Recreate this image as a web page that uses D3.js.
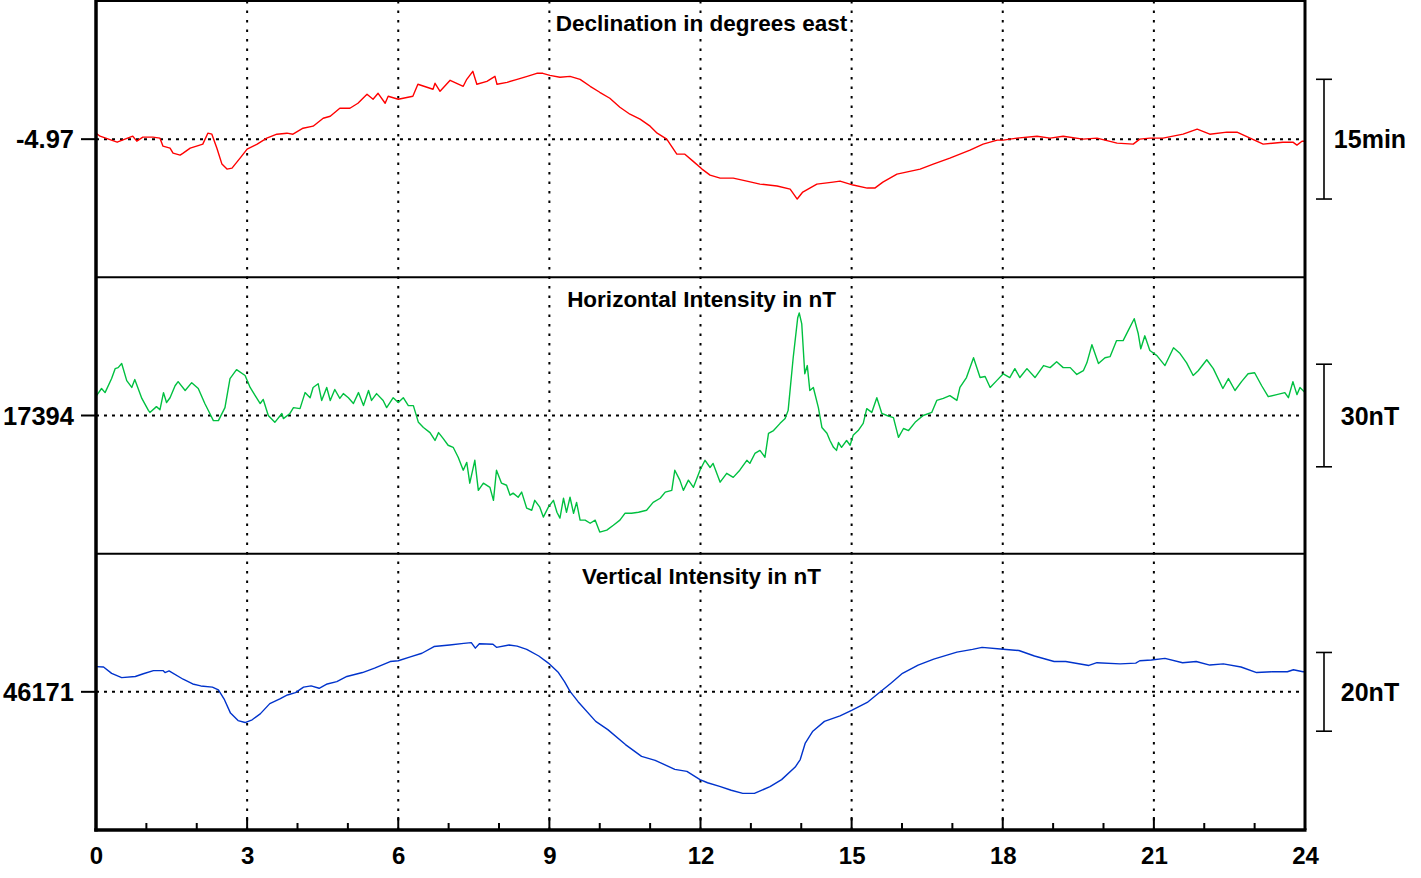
<!DOCTYPE html>
<html><head><meta charset="utf-8">
<script src="https://cdn.jsdelivr.net/npm/d3@7"></script>
<style>
html,body{margin:0;padding:0;background:#fff;}
svg text{font-family:"Liberation Sans",Arial,Helvetica,sans-serif;font-weight:bold;fill:#000;}
</style></head>
<body>
<svg id="chart" width="1421" height="878"></svg>
<script>
// ---------- DATA ----------
const hourTicks = [0,3,6,9,12,15,18,21,24];
const panelTitles = ["Declination in degrees east","Horizontal Intensity in nT","Vertical Intensity in nT"];
const baselineLabels = ["-4.97","17394","46171"];
const baselines = [-4.97, 17394, 46171];
const halfRanges = [0.2885, 40.4, 35.1];
const scaleBarValues = [0.25, 30, 20];
const scaleBarLabels = ["15min","30nT","20nT"];
const colors = ["#ff0000","#00c040","#0033cc"];

// Declination (degrees east)
const decT = [0,0.08,0.42,0.73,0.81,0.93,1.13,1.27,1.33,1.47,1.53,1.67,1.73,1.87,2.06,2.12,2.22,2.30,2.40,2.50,2.60,2.70,2.86,3.00,3.20,3.39,3.59,3.79,3.91,4.11,4.31,4.51,4.65,4.84,5.04,5.20,5.38,5.50,5.60,5.74,5.80,6.00,6.29,6.39,6.69,6.73,6.83,7.03,7.29,7.36,7.48,7.56,7.76,7.92,7.96,8.16,8.36,8.56,8.75,8.87,9.01,9.21,9.41,9.61,9.81,10.00,10.20,10.40,10.60,10.80,11.00,11.14,11.33,11.53,11.69,11.85,12.03,12.19,12.39,12.65,12.92,13.18,13.52,13.78,13.92,14.03,14.31,14.63,14.77,15.03,15.31,15.46,15.62,15.90,16.36,16.62,16.95,17.35,17.61,17.89,18.01,18.28,18.68,18.94,19.20,19.59,19.87,20.27,20.59,20.72,20.92,21.18,21.58,21.86,22.11,22.45,22.65,22.91,23.17,23.56,23.76,23.84,23.94,24.00];
const decV = [-4.9575,-4.9638,-4.9763,-4.9638,-4.9742,-4.9658,-4.9658,-4.9679,-4.9846,-4.9888,-4.9992,-5.0033,-4.9992,-4.9888,-4.9825,-4.9804,-4.9575,-4.9596,-4.9888,-5.0221,-5.0325,-5.0304,-5.0096,-4.9908,-4.9804,-4.9679,-4.9596,-4.9575,-4.9596,-4.9471,-4.9429,-4.9263,-4.9221,-4.9054,-4.9054,-4.8950,-4.8763,-4.8867,-4.8742,-4.8950,-4.8804,-4.8867,-4.8804,-4.8554,-4.8658,-4.8533,-4.8700,-4.8471,-4.8596,-4.8450,-4.8283,-4.8554,-4.8492,-4.8388,-4.8554,-4.8513,-4.8450,-4.8388,-4.8325,-4.8325,-4.8367,-4.8408,-4.8388,-4.8450,-4.8596,-4.8721,-4.8846,-4.9033,-4.9179,-4.9283,-4.9429,-4.9575,-4.9700,-5.0013,-5.0013,-5.0158,-5.0325,-5.0450,-5.0513,-5.0513,-5.0575,-5.0638,-5.0679,-5.0742,-5.0950,-5.0804,-5.0638,-5.0596,-5.0575,-5.0658,-5.0721,-5.0721,-5.0596,-5.0429,-5.0325,-5.0221,-5.0096,-4.9929,-4.9804,-4.9721,-4.9721,-4.9679,-4.9638,-4.9679,-4.9638,-4.9700,-4.9679,-4.9783,-4.9804,-4.9700,-4.9679,-4.9679,-4.9596,-4.9492,-4.9596,-4.9554,-4.9554,-4.9679,-4.9804,-4.9763,-4.9763,-4.9825,-4.9742,-4.9742];

// Horizontal intensity (nT)
const hT = [0.01,0.11,0.18,0.31,0.38,0.44,0.51,0.61,0.71,0.77,0.91,1.04,1.07,1.20,1.27,1.34,1.40,1.47,1.57,1.63,1.77,1.90,2.03,2.16,2.26,2.33,2.43,2.56,2.66,2.79,2.96,3.06,3.16,3.26,3.32,3.42,3.55,3.69,3.72,3.85,3.92,4.05,4.15,4.25,4.31,4.41,4.48,4.58,4.65,4.74,4.84,4.91,5.01,5.11,5.21,5.31,5.41,5.47,5.57,5.70,5.77,5.90,6.00,6.10,6.20,6.30,6.40,6.50,6.63,6.73,6.80,6.89,6.99,7.09,7.19,7.29,7.36,7.42,7.52,7.59,7.69,7.82,7.89,7.95,8.05,8.15,8.22,8.28,8.38,8.45,8.55,8.65,8.71,8.81,8.88,8.98,9.08,9.15,9.21,9.28,9.34,9.41,9.48,9.54,9.61,9.71,9.81,9.91,10.00,10.14,10.27,10.40,10.50,10.63,10.77,10.93,11.06,11.20,11.30,11.43,11.49,11.59,11.66,11.76,11.86,11.99,12.09,12.19,12.25,12.39,12.52,12.65,12.78,12.92,12.98,13.08,13.18,13.28,13.35,13.45,13.58,13.68,13.74,13.84,13.93,13.96,14.01,14.07,14.12,14.17,14.24,14.34,14.41,14.51,14.57,14.64,14.70,14.74,14.80,14.90,14.97,15.03,15.13,15.23,15.30,15.40,15.50,15.60,15.70,15.83,15.93,16.03,16.13,16.26,16.42,16.59,16.69,16.82,16.95,17.09,17.15,17.28,17.42,17.55,17.65,17.75,17.88,18.01,18.14,18.24,18.34,18.48,18.64,18.81,18.94,19.07,19.20,19.34,19.47,19.60,19.67,19.77,19.90,20.03,20.13,20.26,20.39,20.49,20.61,20.69,20.74,20.82,20.92,21.06,21.22,21.39,21.52,21.65,21.78,21.88,22.05,22.18,22.37,22.48,22.61,22.74,22.87,23.00,23.14,23.27,23.44,23.60,23.67,23.76,23.84,23.90,24.00];
const hV = [17399.8,17401.9,17400.7,17404.8,17407.7,17408.0,17409.2,17404.2,17402.2,17404.5,17399.0,17395.5,17394.9,17396.6,17395.7,17400.7,17397.8,17399.2,17402.7,17403.9,17401.3,17403.6,17401.9,17397.5,17394.6,17392.5,17392.5,17396.3,17404.8,17407.4,17405.7,17402.2,17399.8,17397.5,17398.7,17394.0,17392.0,17394.6,17393.1,17394.6,17396.3,17396.0,17400.7,17399.2,17402.2,17403.3,17398.4,17402.2,17398.4,17401.6,17399.0,17400.4,17399.2,17397.5,17400.7,17396.9,17401.3,17398.4,17400.4,17398.4,17396.3,17399.2,17397.8,17399.2,17396.9,17396.9,17392.0,17390.5,17389.0,17386.7,17389.0,17387.3,17385.3,17384.7,17381.8,17378.0,17380.3,17374.2,17380.9,17372.1,17374.2,17373.0,17369.2,17378.0,17374.2,17373.6,17370.7,17371.3,17370.1,17371.6,17366.9,17366.3,17369.2,17367.2,17364.3,17367.2,17369.2,17365.7,17364.0,17369.8,17365.7,17370.1,17365.4,17368.6,17363.4,17363.4,17362.5,17363.4,17359.9,17360.5,17361.9,17363.4,17365.4,17365.4,17365.7,17366.3,17368.6,17369.8,17371.6,17372.1,17378.0,17375.1,17372.1,17375.1,17373.0,17378.0,17380.9,17378.8,17380.0,17374.5,17377.1,17375.9,17378.0,17380.9,17380.0,17382.9,17383.8,17381.8,17388.8,17389.6,17391.7,17393.1,17395.5,17410.9,17422.6,17424.0,17420.8,17406.2,17408.6,17401.3,17402.2,17396.3,17390.5,17388.8,17386.7,17384.7,17383.8,17386.1,17384.7,17386.7,17385.3,17388.2,17389.6,17391.7,17396.0,17394.9,17399.2,17394.6,17394.0,17393.4,17387.6,17390.2,17389.6,17392.0,17394.0,17394.9,17398.4,17399.0,17399.8,17398.4,17402.2,17405.1,17410.9,17405.1,17405.4,17402.2,17404.2,17406.2,17405.1,17407.7,17405.1,17407.7,17405.1,17408.6,17408.0,17409.7,17408.0,17408.0,17406.0,17407.1,17409.4,17414.7,17409.2,17410.9,17411.2,17415.9,17415.9,17418.8,17422.3,17417.9,17413.5,17417.3,17413.0,17411.5,17408.6,17413.8,17412.1,17409.4,17405.7,17407.1,17410.3,17407.7,17401.9,17404.8,17401.3,17403.9,17406.2,17406.5,17402.7,17399.5,17400.1,17400.7,17399.2,17403.9,17400.1,17402.2,17400.7];

// Vertical intensity (nT)
const zT = [0,0.15,0.31,0.51,0.78,0.94,1.14,1.33,1.37,1.45,1.73,1.92,2.08,2.31,2.43,2.55,2.67,2.82,2.96,3.10,3.26,3.45,3.65,3.80,3.96,4.12,4.27,4.43,4.59,4.78,4.98,5.29,5.53,5.84,6.00,6.24,6.47,6.71,7.02,7.30,7.45,7.53,7.61,7.88,7.95,8.20,8.36,8.55,8.79,8.98,9.18,9.30,9.41,9.57,9.92,10.16,10.51,10.83,11.10,11.49,11.73,11.99,12.14,12.38,12.61,12.84,13.07,13.38,13.61,13.88,13.98,14.08,14.23,14.46,14.77,15.00,15.31,15.54,15.78,16.01,16.32,16.63,17.09,17.40,17.59,18.01,18.32,18.63,19.02,19.25,19.71,19.87,20.33,20.64,20.72,20.95,21.22,21.57,21.84,22.11,22.38,22.73,23.04,23.35,23.65,23.77,23.96,24.00];
const zV = [46177.4,46177.3,46175.7,46174.6,46174.9,46175.6,46176.4,46176.4,46175.9,46176.3,46174.2,46173.0,46172.5,46172.2,46171.5,46169.0,46165.6,46163.7,46163.2,46163.9,46165.4,46168.0,46169.2,46170.2,46170.8,46172.2,46172.5,46171.9,46173.0,46173.6,46174.9,46175.9,46177.0,46178.7,46178.9,46179.9,46180.8,46182.5,46182.9,46183.3,46183.5,46182.1,46183.2,46183.1,46182.3,46182.9,46182.6,46181.8,46180.1,46178.3,46175.9,46173.6,46171.1,46168.5,46163.5,46161.4,46157.6,46154.6,46153.6,46151.3,46150.8,46148.7,46147.9,46147.0,46146.0,46145.2,46145.2,46146.9,46148.7,46151.9,46153.8,46158.0,46161.0,46163.5,46164.9,46166.3,46168.3,46170.7,46173.2,46175.7,46177.8,46179.3,46181.1,46181.8,46182.3,46181.8,46181.5,46180.1,46178.7,46178.7,46177.7,46178.4,46178.1,46178.3,46178.9,46179.1,46179.5,46178.4,46178.7,46177.8,46178.1,46177.3,46175.9,46176.1,46176.1,46176.6,46176.1,46176.1];

const series = [
  {t: decT, v: decV},
  {t: hT, v: hV},
  {t: zT, v: zV}
];

(function draw() {
// ---------- LAYOUT ----------
const pL = 96, pR = 1305, pT = 1, pB = 830;
const panelH = (pB - pT) / 3;
const svg = d3.select("#chart");

const x = d3.scaleLinear().domain([0, 24]).range([pL, pR]);

// vertical dotted grid
svg.append("g").selectAll("line")
  .data(hourTicks.filter(d => d > 0 && d < 24))
  .join("line")
  .attr("x1", d => x(d)).attr("x2", d => x(d))
  .attr("y1", pT).attr("y2", pB)
  .attr("stroke", "#000").attr("stroke-width", 2)
  .attr("stroke-dasharray", "2.5,7");

series.forEach((s, i) => {
  const py0 = pT + i * panelH, py1 = py0 + panelH;
  const y = d3.scaleLinear()
    .domain([baselines[i] - halfRanges[i], baselines[i] + halfRanges[i]])
    .range([py1, py0]);

  svg.append("clipPath").attr("id", "clip" + i)
    .append("rect").attr("x", pL).attr("y", py0).attr("width", pR - pL).attr("height", panelH);

  // baseline dotted
  svg.append("line")
    .attr("x1", pL).attr("x2", pR)
    .attr("y1", y(baselines[i])).attr("y2", y(baselines[i]))
    .attr("stroke", "#000").attr("stroke-width", 2)
    .attr("stroke-dasharray", "3,5");

  // baseline tick on left
  svg.append("line")
    .attr("x1", pL - 15).attr("x2", pL)
    .attr("y1", y(baselines[i])).attr("y2", y(baselines[i]))
    .attr("stroke", "#000").attr("stroke-width", 2);

  svg.append("text")
    .attr("x", pL - 22).attr("y", y(baselines[i]))
    .attr("dy", "0.36em")
    .attr("text-anchor", "end")
    .attr("font-size", 25.5)
    .text(baselineLabels[i]);

  // title
  svg.append("text")
    .attr("x", (pL + pR) / 2 + 1).attr("y", py0 + 30)
    .attr("text-anchor", "middle")
    .attr("font-size", 22.5)
    .text(panelTitles[i]);

  // data line
  const line = d3.line().x(d => x(d[0])).y(d => y(d[1]));
  svg.append("path")
    .datum(s.t.map((t, k) => [t, s.v[k]]))
    .attr("clip-path", "url(#clip" + i + ")")
    .attr("fill", "none")
    .attr("stroke", colors[i])
    .attr("stroke-width", 1.4)
    .attr("stroke-linejoin", "round")
    .attr("d", line);

  // scale bar
  const yb1 = y(baselines[i] + scaleBarValues[i] / 2);
  const yb2 = y(baselines[i] - scaleBarValues[i] / 2);
  const bx = 1324;
  const g = svg.append("g").attr("stroke", "#000").attr("stroke-width", 1.6);
  g.append("line").attr("x1", bx).attr("x2", bx).attr("y1", yb1).attr("y2", yb2);
  g.append("line").attr("x1", bx - 8).attr("x2", bx + 8).attr("y1", yb1).attr("y2", yb1);
  g.append("line").attr("x1", bx - 8).attr("x2", bx + 8).attr("y1", yb2).attr("y2", yb2);
  svg.append("text")
    .attr("x", 1370).attr("y", y(baselines[i]))
    .attr("dy", "0.36em")
    .attr("text-anchor", "middle")
    .attr("font-size", 25)
    .text(scaleBarLabels[i]);

  if (i > 0) {
    svg.append("line")
      .attr("x1", pL).attr("x2", pR)
      .attr("y1", py0).attr("y2", py0)
      .attr("stroke", "#000").attr("stroke-width", 2);
  }
});

// frame
svg.append("line").attr("x1", pL).attr("x2", pR).attr("y1", pT).attr("y2", pT)
  .attr("stroke", "#000").attr("stroke-width", 2);
svg.append("line").attr("x1", pR).attr("x2", pR).attr("y1", 0).attr("y2", pB)
  .attr("stroke", "#000").attr("stroke-width", 3);
svg.append("line").attr("x1", pL).attr("x2", pL).attr("y1", 0).attr("y2", pB + 1.5)
  .attr("stroke", "#000").attr("stroke-width", 3.5);

// bottom axis
const xAxis = d3.axisBottom(x).tickValues(hourTicks).tickSize(0).tickPadding(17).tickFormat(d3.format("d"));
const ax = svg.append("g").attr("transform", `translate(0,${pB})`).call(xAxis);
ax.select(".domain").attr("stroke-width", 3.5).attr("d", `M${pL - 1.75},0H${pR + 1.5}`);
ax.selectAll(".tick text").attr("font-size", 24).attr("font-family", '"Liberation Sans",Arial,sans-serif').attr("font-weight", "bold").attr("fill", "#000");

// minor + major ticks pointing inward
svg.append("g").selectAll("line")
  .data(d3.range(1, 24))
  .join("line")
  .attr("x1", d => x(d)).attr("x2", d => x(d))
  .attr("y1", pB).attr("y2", d => pB - (d % 3 === 0 ? 13 : 7))
  .attr("stroke", "#000").attr("stroke-width", 2);
})();
</script>
</body></html>
